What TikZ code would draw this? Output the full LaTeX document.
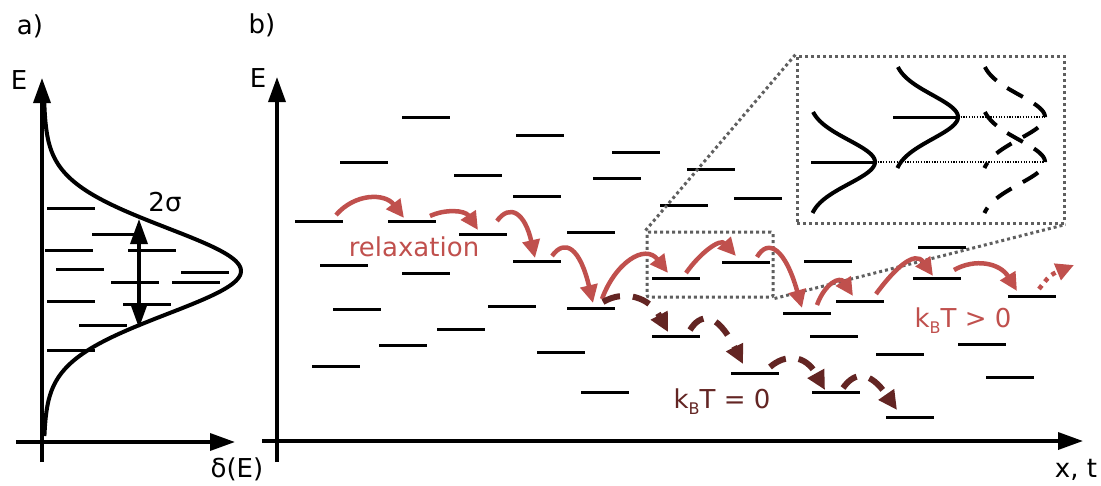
\documentclass[tikz,border=0pt]{standalone}
\usepackage{fontspec}
\setmainfont{DejaVu Sans}
\usetikzlibrary{arrows.meta}
\definecolor{relred}{RGB}{192,80,77}
\definecolor{darkred}{RGB}{99,37,35}
\definecolor{dotgray}{RGB}{95,95,95}
\newcommand{\kbsub}{k\raisebox{-6pt}{\fontsize{16}{16}\selectfont B}T}
\begin{document}
\begin{tikzpicture}[x=1pt,y=-1pt,
  lvl/.style={line width=3pt},
  axisline/.style={line width=3.5pt,-{Triangle[length=25pt,width=17pt]}},
  curveline/.style={line width=4pt},
  relarrow/.style={draw=relred,line width=4.5pt,-{Triangle[length=18pt,width=17pt]}},
  zeroarrow/.style={draw=darkred,line width=6pt,dash pattern=on 18pt off 13pt,-{Triangle[length=19pt,width=18pt]}},
  dotline/.style={draw=dotgray,line width=3pt,dash pattern=on 3pt off 3pt},
  thindot/.style={line width=1.2pt,dash pattern=on 1.2pt off 1.5pt},
  lbl/.style={font=\fontsize{26}{30}\selectfont,inner sep=0pt,anchor=base},
]
\useasboundingbox (0,0) rectangle (1101,485);

% ---------- panel a ----------
\node[lbl] (la) at (30,34) {a)};
\node[lbl] (Ea) at (19,89) {E};
\node[lbl] (dE) at (237,477) {δ(E)};
\coordinate (a0) at (42,462);
\coordinate (atop) at (42,78);
\coordinate (ax0) at (16,442);
\coordinate (axr) at (235,442);
\draw[axisline] (a0) -- (atop);
\draw[axisline] (ax0) -- (axr);
\foreach \xa/\ya in {47/208, 92/234, 45/250, 128/250, 56/269, 181/272, 111/282, 172/282, 47/301, 123/304, 79/325, 47/350}
  \draw[lvl] (\xa,\ya) -- ++(48,0);
\draw[curveline] plot[domain=102:436,samples=180,variable=\t]
  ({42+199*(0.85*exp(-0.5*((\t-271)/46)^2)+0.15/(1+((\t-271)/46)^2))},{\t});
\coordinate (sigtop) at (139,219);
\coordinate (sigbot) at (139,328);
\draw[line width=3.5pt,{Triangle[length=25pt,width=17pt]}-{Triangle[length=25pt,width=17pt]}] (sigtop) -- (sigbot);
\node[lbl] (sig) at (165,211) {2σ};

% ---------- panel b ----------
\node[lbl] (lb) at (262,33) {b)};
\node[lbl] (Eb) at (258,87) {E};
\node[lbl] (xt) at (1076,477) {x, t};
\coordinate (b0) at (277,462);
\coordinate (btop) at (277,77);
\coordinate (bx0) at (262,441);
\coordinate (bxr) at (1083,441);
\draw[axisline] (b0) -- (btop);
\draw[axisline] (bx0) -- (bxr);

\foreach \xb/\yb in {402/117, 516/135, 340/162, 454/175, 612/152, 513/196, 593/178, 687/169,
  660/205, 734/198, 295/221, 388/221, 459/234, 567/232, 320/265, 513/261, 402/273, 333/309,
  488/306, 567/308, 437/329, 379/345, 312/366, 537/352, 581/392, 652/278, 722/262, 804/261,
  783/313, 652/336, 810/336, 876/354, 731/373, 812/392, 886/417, 918/247, 836/301, 913/278,
  1008/296, 958/344, 986/377}
  \draw[lvl] (\xb,\yb) -- ++(48,0);

% inset zoom
\node[dotline,draw,minimum width=126pt,minimum height=65pt,inner sep=0pt,rounded corners=2pt] (src) at (710,264.5) {};
\node[dotline,draw,minimum width=267pt,minimum height=167pt,inner sep=0pt] (big) at (930.5,139.5) {};
\draw[dotline] (src.north west) -- (big.north west);
\draw[dotline] (src.south east) -- (big.south east);

\draw[lvl] (811,162) -- (875,162);
\draw[lvl] (893,117) -- (958,117);
\draw[thindot] (875,162) -- (1045,162);
\draw[thindot] (958,117) -- (1045,117);
\draw[curveline] plot[domain=-50:51,samples=60,variable=\t] ({808+67*exp(-0.5*(\t/22)^2)},{162+\t});
\draw[curveline] plot[domain=-50:51,samples=60,variable=\t] ({893+65*exp(-0.5*(\t/22)^2)},{117+\t});
\draw[curveline,dash pattern=on 18pt off 13pt] plot[domain=-50:51,samples=60,variable=\t] ({980+65*exp(-0.5*(\t/22)^2)},{117+\t});
\draw[curveline,dash pattern=on 18pt off 13pt] plot[domain=-50:51,samples=60,variable=\t] ({980+65*exp(-0.5*(\t/22)^2)},{162+\t});

% relaxation arrows (kBT > 0)
\coordinate (r1s) at (336,215);  \coordinate (r1e) at (404,218);
\coordinate (r2s) at (430,216);  \coordinate (r2e) at (478,230);
\coordinate (r3s) at (497,221);  \coordinate (r3e) at (535,258);
\coordinate (r4s) at (552,256);  \coordinate (r4e) at (593,303);
\coordinate (r5s) at (602,299);  \coordinate (r5e) at (668,273);
\coordinate (r6s) at (686,273);  \coordinate (r6e) at (736,256);
\coordinate (r7s) at (757,257);  \coordinate (r7e) at (802,308);
\coordinate (r8s) at (817,305);  \coordinate (r8e) at (853,296);
\coordinate (r9s) at (876,294);  \coordinate (r9e) at (933,276);
\coordinate (r10s) at (954,270); \coordinate (r10e) at (1017,291);
\coordinate (r11s) at (1039,289); \coordinate (r11e) at (1074,265);
\draw[relarrow] (r1s) .. controls (355,193) and (385,193) .. (r1e);
\draw[relarrow] (r2s) .. controls (445,209) and (465,210) .. (r2e);
\draw[relarrow] (r3s) .. controls (510,203) and (525,213) .. (r3e);
\draw[relarrow] (r4s) .. controls (565,238) and (580,248) .. (r4e);
\draw[relarrow] (r5s) .. controls (615,263) and (645,243) .. (r5e);
\draw[relarrow] (r6s) .. controls (700,253) and (720,238) .. (r6e);
\draw[relarrow] (r7s) .. controls (768,238) and (785,248) .. (r7e);
\draw[relarrow] (r8s) .. controls (825,283) and (840,276) .. (r8e);
\draw[relarrow] (r9s) .. controls (895,268) and (915,250) .. (r9e);
\draw[relarrow] (r10s) .. controls (975,258) and (1000,263) .. (r10e);
\draw[relarrow,dash pattern=on 4.5pt off 5pt] (r11s) .. controls (1050,275) .. (r11e);

% kBT = 0 arrows
\coordinate (d1s) at (603,302); \coordinate (d1e) at (668,332);
\coordinate (d2s) at (690,330); \coordinate (d2e) at (743,364);
\coordinate (d3s) at (770,367); \coordinate (d3e) at (825,390);
\coordinate (d4s) at (843,388); \coordinate (d4e) at (897,410);
\draw[zeroarrow] (d1s) .. controls (625,289) and (650,298) .. (d1e);
\draw[zeroarrow] (d2s) .. controls (700,314) and (716,310) .. (d2e);
\draw[zeroarrow] (d3s) .. controls (785,354) and (805,354) .. (d3e);
\draw[zeroarrow] (d4s) .. controls (855,371) and (870,371) .. (d4e);

\node[lbl,text=relred] (relax) at (414,256) {relaxation};
\node[lbl,text=relred] (kpos) at (963,327) {\kbsub\ > 0};
\node[lbl,text=darkred] (kzero) at (722,408) {\kbsub\ = 0};
\end{tikzpicture}
\end{document}
